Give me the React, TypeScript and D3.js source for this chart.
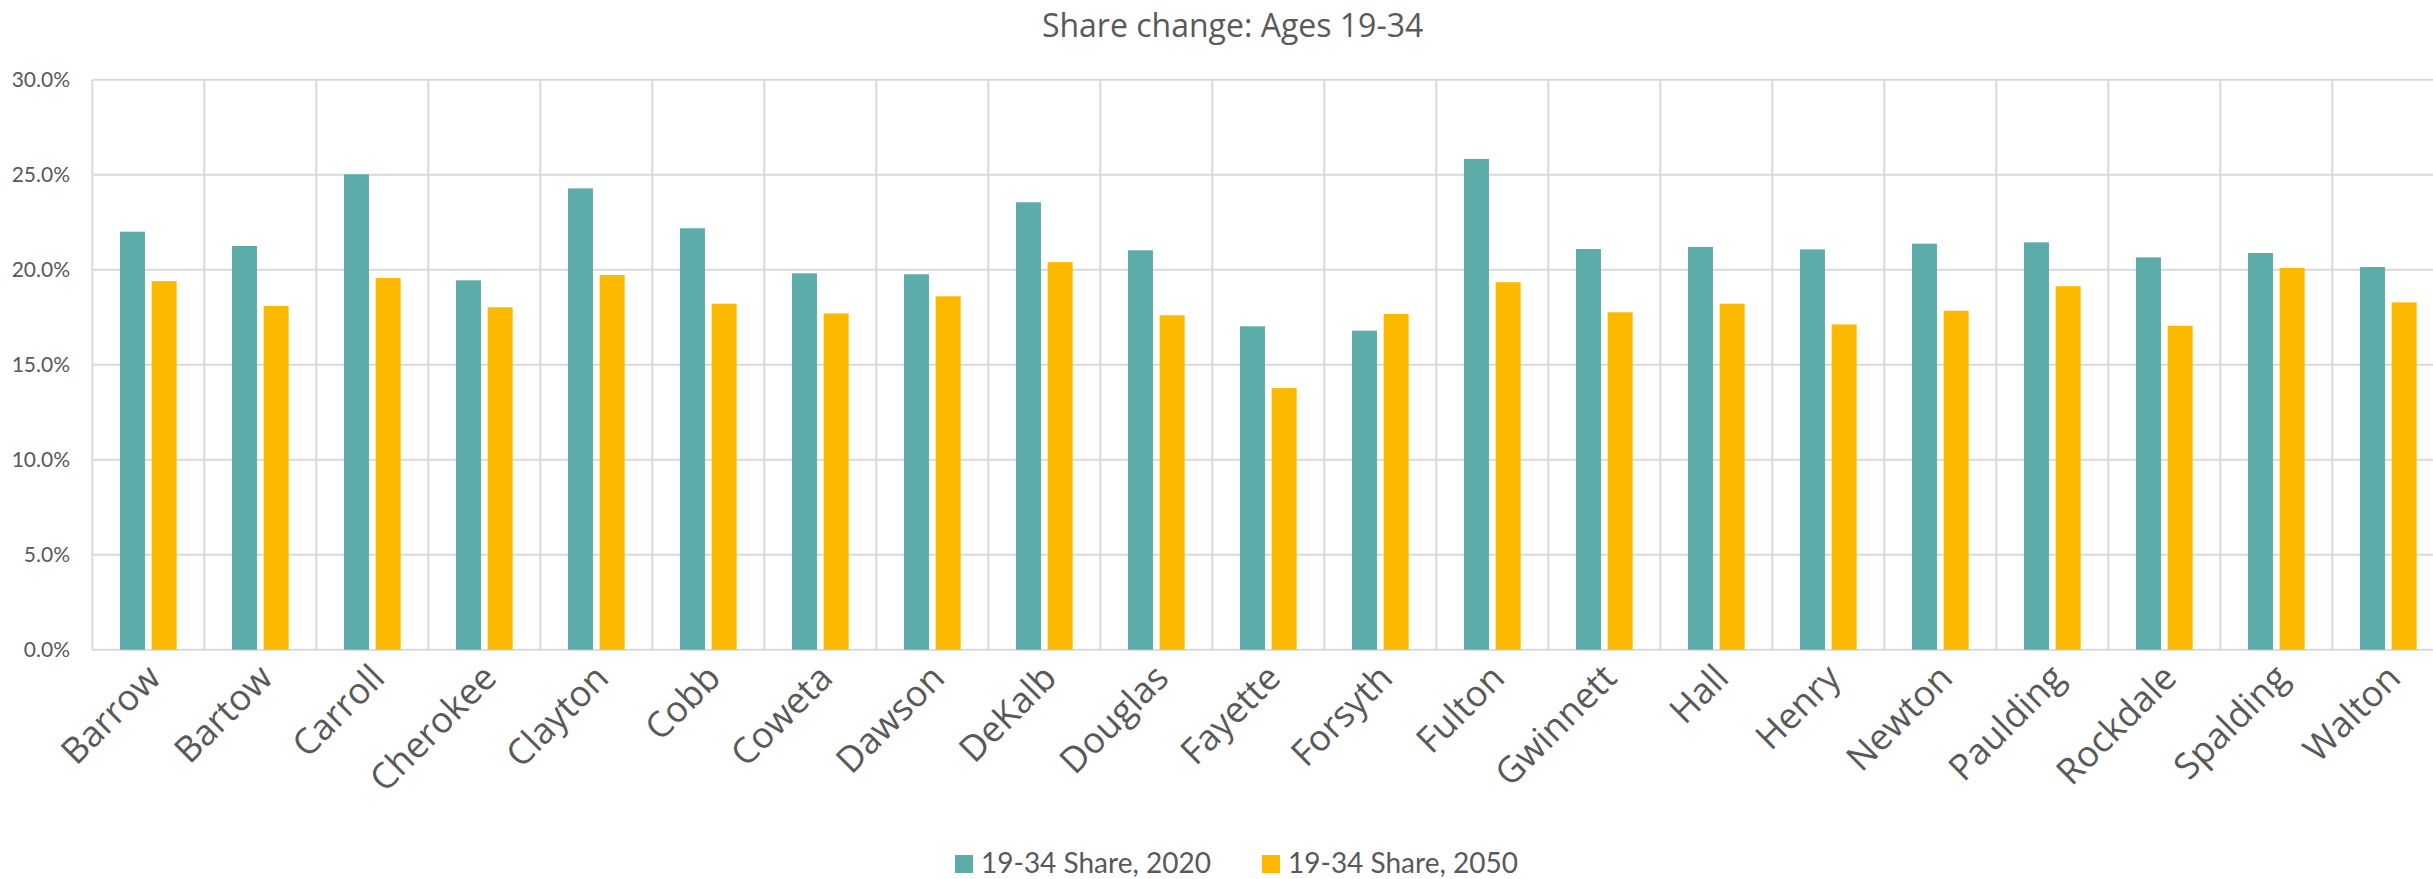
import React from "react";
import * as d3 from "d3";

const categories = ["Barrow","Bartow","Carroll","Cherokee","Clayton","Cobb","Coweta","Dawson","DeKalb","Douglas","Fayette","Forsyth","Fulton","Gwinnett","Hall","Henry","Newton","Paulding","Rockdale","Spalding","Walton"];
const share2020 = [22.0,21.25,25.02,19.44,24.28,22.18,19.81,19.76,23.55,21.02,17.02,16.79,25.83,21.09,21.2,21.07,21.37,21.44,20.65,20.88,20.14];
const share2050 = [19.4,18.09,19.56,18.02,19.72,18.21,17.7,18.6,20.4,17.6,13.77,17.67,19.34,17.76,18.21,17.12,17.84,19.13,17.05,20.09,18.28];
const seriesNames = ["19-34 Share, 2020", "19-34 Share, 2050"];
const seriesColors = ["#5cacaa", "#fdb800"];
const yTicks = [0, 5, 10, 15, 20, 25, 30];
const title = "Share change: Ages 19-34";

const W = 2433, H = 879;
const left = 92.3, step = 112;
const top = 79.7, bottom = 649.7;
const textColor = "#595959";
const gridColor = "#d9d9d9";

export default function App() {
  const x0 = d3.scaleBand<string>().domain(categories).range([left, left + step * categories.length]).paddingInner(0).paddingOuter(0);
  const x1 = d3.scaleBand<string>().domain(seriesNames).range([0, x0.bandwidth()]).paddingInner(0.211).paddingOuter(0.872);
  const y = d3.scaleLinear().domain([0, 30]).range([bottom, top]);
  const data = [share2020, share2050];
  const fmt = (v: number) => v.toFixed(1) + "%";

  return (
    <div style={{ position: "absolute", left: 0, top: 0 }}>
      <svg width={W} height={H} style={{ display: "block", background: "#fff" }}>
        <text x={1232.6} y={36.7} textAnchor="middle" fontFamily="'Open Sans'" fontSize={32} fill={textColor}>{title}</text>
        {yTicks.map((t) => (
          <g key={"y" + t}>
            <line x1={left} x2={left + step * categories.length} y1={y(t)} y2={y(t)} stroke={gridColor} strokeWidth={2} />
            <text x={70} y={y(t)} dy="0.36em" textAnchor="end" fontFamily="Lato" fontSize={21} fill={textColor}>{fmt(t)}</text>
          </g>
        ))}
        {d3.range(categories.length + 1).map((i) => {
          const xv = left + step * i;
          return <line key={"v" + i} x1={xv} x2={xv} y1={top} y2={bottom} stroke={gridColor} strokeWidth={2} />;
        })}
        {categories.map((c, i) => (
          <g key={c} transform={`translate(${x0(c)},0)`}>
            {data.map((s, k) => (
              <rect key={k} x={x1(seriesNames[k])} y={y(s[i])} width={x1.bandwidth()} height={bottom - y(s[i])} fill={seriesColors[k]} />
            ))}
          </g>
        ))}
        {categories.map((c) => {
          const cx = (x0(c) as number) + x0.bandwidth() / 2;
          return (
            <text key={"l" + c} transform={`translate(${cx - 4},${bottom + 12}) rotate(-45)`} textAnchor="end" dy="0.72em" fontFamily="'Open Sans'" fontSize={36} fill={textColor}>{c}</text>
          );
        })}
        {seriesNames.map((n, k) => {
          const lx = k === 0 ? 955 : 1262;
          return (
            <g key={n}>
              <rect x={lx} y={855} width={18} height={18} fill={seriesColors[k]} />
              <text x={lx + 26} y={873} fontFamily="Lato" fontSize={28} fill={textColor}>{n}</text>
            </g>
          );
        })}
      </svg>
    </div>
  );
}
